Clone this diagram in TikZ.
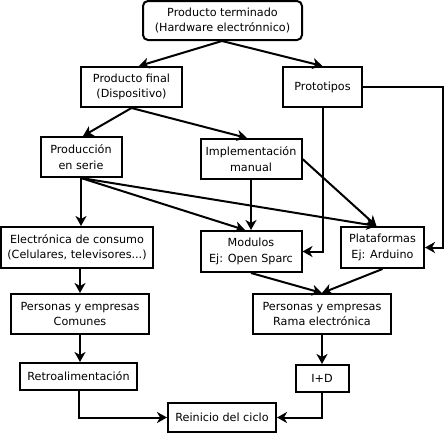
\documentclass[tikz,border=0pt]{standalone}
\usepackage{fontspec}
\setmainfont{DejaVu Sans}
\usepackage{tikz}
\usetikzlibrary{arrows.meta, positioning, calc}
\tikzset{
	box/.style={rectangle, draw=black, line width=2pt, fill=white, align=center, inner sep=1pt, font=\fontsize{11.2}{15.5}\selectfont},
	box_round/.style={box, rounded corners=5pt},
	conn/.style={draw=black, line width=2pt, -{Stealth[length=10pt, width=11pt, inset=3pt]}}
}

\begin{document}
\begin{tikzpicture}[x=1pt, y=-1pt]
	\useasboundingbox (0,0) rectangle (445,434);
	% upper part
	\node[box_round, minimum width=159pt, minimum height=39pt] (top) at (222.5,20.5) {Producto terminado\\(Hardware electrónnico)};
	\node[box, minimum width=101pt, minimum height=40pt] (pfinal) at (131.5,87) {Producto final\\(Dispositivo)};
	\node[box, minimum width=79pt, minimum height=40pt] (proto) at (322.5,87) {Prototipos};
	\node[box, minimum width=81pt, minimum height=40pt] (serie) at (81,157) {Producción\\en serie};
	\node[box, minimum width=101pt, minimum height=40pt, below=30pt of pfinal.south, anchor=north, xshift=119.5pt] (manual) {Implementación\\manual};
	% middle row
	\node[box, minimum width=152pt, minimum height=41pt] (consumo) at (77,247.5) {Electrónica de consumo\\(Celulares, televisores...)};
	\node[box, minimum width=101pt, minimum height=41pt, below=50pt of manual.south, anchor=north] (modulos) {Modulos\\Ej: Open Sparc};
	\node[box, minimum width=83pt, minimum height=41pt] (plataf) at (382.5,247.5) {Plataformas\\Ej: Arduino};
	% lower part
	\node[box, minimum width=138pt, minimum height=40pt] (comunes) at (80,314) {Personas y empresas\\Comunes};
	\node[box, minimum width=138pt, minimum height=40pt] (rama) at (322,314) {Personas y empresas\\Rama electrónica};
	\node[box, minimum width=117pt, minimum height=27pt] (retro) at (78.5,376.5) {Retroalimentación};
	\node[box, minimum width=53pt, minimum height=27pt, below=29pt of rama.south, anchor=north] (imasd) {I+D};
	\node[box, minimum width=108pt, minimum height=29pt] (reinicio) at (222,417.5) {Reinicio del ciclo};
	% connectors
	\coordinate (top_s) at ($(top.south)+(-0.5,0)$);
	\draw[conn] (top_s) -- ($(pfinal.north)+(7.5,0)$);
	\draw[conn] (top_s) -- (proto.north);
	\coordinate (pfinal_s) at (pfinal.south);
	\draw[conn] (pfinal_s) -- ($(serie.north)+(2,0)$);
	\draw[conn] (pfinal_s) -- ($(manual.north)+(-4,0)$);
	\coordinate (serie_s) at (serie.south);
	\draw[conn] (serie_s) -- (serie_s |- consumo.north);
	\draw[conn] (serie_s) -- ($(modulos.north)+(-6,0)$);
	\draw[conn] (serie_s) -- ($(plataf.north)+(-6,0)$);
	\draw[conn] (manual.south) -- (modulos.north);
	\draw[conn] (manual.east) -- ($(plataf.north)+(-6,0)$);
	\draw[conn] (proto.south) |- (modulos.east);
	\draw[conn] (proto.east) -| (443,247.5) -- (plataf.east);
	\draw[conn] (modulos.south) -- (rama.north);
	\draw[conn] (plataf.south) -- (rama.north);
	\draw[conn] (consumo.south -| comunes.north) -- (comunes.north);
	\draw[conn] (comunes.south) -- (comunes.south |- retro.north);
	\draw[conn] (rama.south) -- (imasd.north);
	\draw[conn] (retro.south) |- (reinicio.west);
	\draw[conn] (imasd.south) |- (reinicio.east);
\end{tikzpicture}
\end{document}
